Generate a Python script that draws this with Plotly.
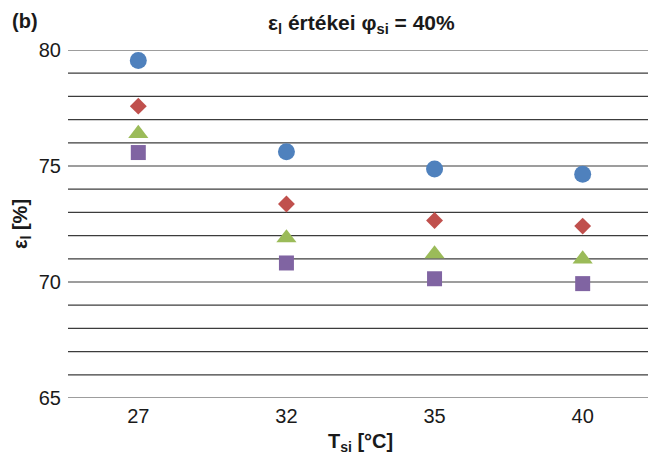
import plotly.graph_objects as go

categories = ["27", "32", "35", "40"]
series_circle = [79.55, 75.61, 74.87, 74.64]
series_diamond = [77.58, 73.36, 72.65, 72.41]
series_triangle = [76.40, 71.90, 71.21, 70.99]
series_square = [75.58, 70.82, 70.14, 69.93]

xpos = list(range(len(categories)))

fig = go.Figure()
specs = [
    (series_circle, "circle", "#4F81BD", 17),
    (series_diamond, "diamond", "#C0504D", 13),
    (series_triangle, "triangle-up", "#9BBB59", 17.5),
    (series_square, "square", "#8064A2", 15),
]
for vals, sym, col, sz in specs:
    fig.add_trace(go.Scatter(
        x=xpos, y=vals, mode="markers",
        marker=dict(symbol=sym, color=col, size=sz, line=dict(width=0)),
        showlegend=False, hoverinfo="skip",
    ))

font_family = "Liberation Sans, Arial, sans-serif"

fig.update_layout(
    width=648, height=455,
    margin=dict(l=68, r=0, t=50, b=57),
    paper_bgcolor="white", plot_bgcolor="white",
    font=dict(family=font_family, color="#1a1a1a", size=19),
    xaxis=dict(
        range=[-0.4746, 3.441],
        tickmode="array", tickvals=xpos, ticktext=categories,
        showgrid=False, zeroline=False, showline=False,
        ticks="", ticklabelstandoff=4,
        tickfont=dict(size=20, family=font_family),
    ),
    yaxis=dict(
        range=[65, 80],
        tickmode="array", tickvals=[65, 70, 75, 80],
        showgrid=False, zeroline=False, showline=False,
        ticks="", ticklabelstandoff=6,
        tickfont=dict(size=20, family=font_family),
    ),
)

# horizontal gridlines every unit
for v in range(65, 81):
    fig.add_shape(type="line", xref="paper", yref="y", x0=0, x1=1, y0=v, y1=v,
                  line=dict(color="#3c3c3c", width=1.2), layer="below")

fig.add_annotation(
    text="<b>ε<sub>l</sub> értékei φ<sub>si</sub> = 40%</b>",
    xref="paper", yref="paper", x=(361 - 68) / 580, y=(398 - 24) / 348,
    xanchor="center", yanchor="middle", showarrow=False,
    font=dict(size=21, family=font_family, color="#1a1a1a"),
)
fig.add_annotation(
    text="<b>(b)</b>",
    xref="paper", yref="paper", x=(25 - 68) / 580, y=(398 - 21) / 348,
    xanchor="center", yanchor="middle", showarrow=False,
    font=dict(size=20, family=font_family, color="#1a1a1a"),
)
fig.add_annotation(
    text="<b>T<sub>si</sub> [°C]</b>",
    xref="paper", yref="paper", x=(360 - 68) / 580, y=(398 - 442) / 348,
    xanchor="center", yanchor="middle", showarrow=False,
    font=dict(size=20, family=font_family, color="#1a1a1a"),
)
fig.add_annotation(
    text="<b>ε<sub>l</sub> [%]</b>",
    xref="paper", yref="paper", x=(21 - 68) / 580, y=0.5,
    xanchor="center", yanchor="middle", showarrow=False, textangle=-90,
    font=dict(size=20, family=font_family, color="#1a1a1a"),
)

fig.write_html(
    "out.html",
    config={"displayModeBar": False},
    post_script="document.body.style.margin='0px';document.body.style.overflow='hidden';",
)
